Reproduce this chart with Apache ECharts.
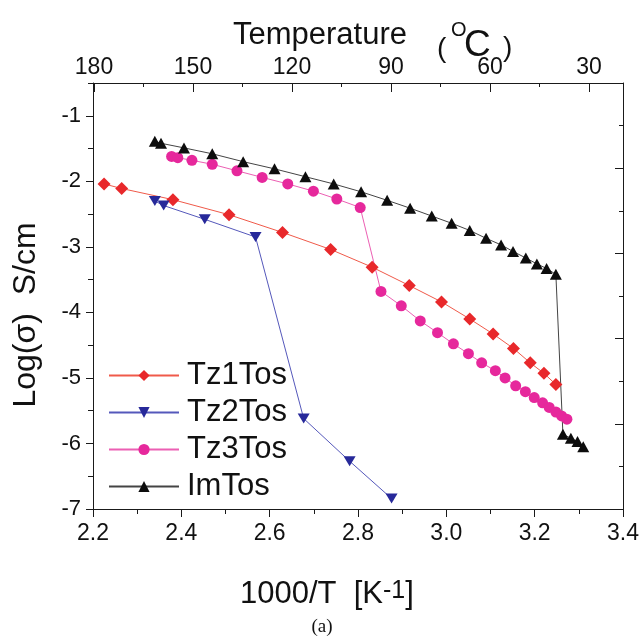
<!DOCTYPE html>
<html>
<head>
<meta charset="utf-8">
<script src="https://cdn.jsdelivr.net/npm/echarts@6/dist/echarts.min.js"></script>
<style>
html, body { margin: 0; padding: 0; background: #fff; }
#main { width: 643px; height: 642px; }
</style>
</head>
<body>
<div id="main"></div>
<script>
// values (1000/T in K^-1, log sigma)
const tz1X = [2.225, 2.265, 2.381, 2.508, 2.629, 2.738, 2.832, 2.916, 2.989, 3.053, 3.106, 3.152, 3.190, 3.221, 3.248]
const tz1Y = [-2.04, -2.11, -2.28, -2.51, -2.78, -3.04, -3.31, -3.59, -3.84, -4.10, -4.33, -4.55, -4.77, -4.93, -5.10]

const tz2X = [2.340, 2.360, 2.453, 2.568, 2.677, 2.781, 2.876]
const tz2Y = [-2.30, -2.37, -2.58, -2.85, -5.62, -6.27, -6.84]

const tz3X = [2.378, 2.392, 2.424, 2.470, 2.526, 2.583, 2.641, 2.699, 2.752, 2.805, 2.852, 2.898, 2.941, 2.980,
    3.016, 3.050, 3.080, 3.111, 3.133, 3.157, 3.179, 3.199, 3.218, 3.233, 3.248, 3.261, 3.273]
const tz3Y = [-1.62, -1.64, -1.68, -1.74, -1.84, -1.94, -2.04, -2.15, -2.27, -2.40, -3.68, -3.90, -4.13, -4.31,
    -4.48, -4.63, -4.77, -4.89, -5.00, -5.12, -5.21, -5.30, -5.38, -5.45, -5.52, -5.58, -5.63]

const imX = [2.340, 2.354, 2.406, 2.470, 2.540, 2.611, 2.681, 2.745, 2.807, 2.866, 2.918, 2.967, 3.012, 3.053,
    3.090, 3.124, 3.151, 3.180, 3.205, 3.227, 3.248, 3.264, 3.282, 3.297, 3.310]
const imY = [-1.39, -1.42, -1.49, -1.58, -1.70, -1.81, -1.93, -2.04, -2.16, -2.29, -2.41, -2.53, -2.64, -2.75,
    -2.87, -2.97, -3.07, -3.17, -3.26, -3.33, -3.42, -5.86, -5.92, -5.97, -6.05]

const seriesNames = ['Tz1Tos', 'Tz2Tos', 'Tz3Tos', 'ImTos']

// tick labels
const logMajor = [-7, -6, -5, -4, -3, -2, -1]
const logMinor = [-6.5, -5.5, -4.5, -3.5, -2.5, -1.5, -0.5]
const tempMajor = [180, 150, 120, 90, 60, 30]
const tempMinor = [165, 135, 105, 75, 45]

const FONT = '"Liberation Sans", Arial, sans-serif'
const AXIS_COLOR = '#1a1a1a'

function pairs (xs, ys) {
    return xs.map(function (x, i) { return [x, ys[i]] })
}

const chart = echarts.init(document.getElementById('main'))

let option = {
    animation: false,
    backgroundColor: '#fff',
    grid: { left: 93, right: 20, top: 83, bottom: 133, containLabel: false },
    legend: {
        orient: 'vertical',
        left: 103,
        top: 355,
        itemWidth: 70,
        itemHeight: 14,
        itemGap: 6,
        data: seriesNames,
        textStyle: { fontFamily: FONT, fontSize: 31, color: '#111', lineHeight: 31, padding: [0, 0, 0, 3] }
    },
    xAxis: [
        {
            // bottom, 1000/T
            type: 'value',
            position: 'bottom',
            min: 2.2,
            max: 3.4,
            interval: 0.2,
            axisLine: { show: true, lineStyle: { color: AXIS_COLOR, width: 1 } },
            axisTick: { show: true, inside: false, length: 8, lineStyle: { color: AXIS_COLOR } },
            minorTick: { show: true, splitNumber: 2, length: 5, lineStyle: { color: AXIS_COLOR } },
            splitLine: { show: false },
            axisLabel: {
                margin: 13,
                fontFamily: FONT,
                fontSize: 23,
                color: '#111',
                formatter: function (v) { return v.toFixed(1) }
            }
        },
        {
            // top, temperature labels
            type: 'value',
            position: 'top',
            inverse: true,
            min: 19.7,
            max: 180.3,
            axisLine: { show: true, lineStyle: { color: AXIS_COLOR, width: 1 } },
            axisTick: { show: true, inside: true, length: 9, customValues: tempMajor, lineStyle: { color: AXIS_COLOR } },
            splitLine: { show: false },
            axisLabel: {
                customValues: tempMajor,
                margin: 4,
                fontFamily: FONT,
                fontSize: 23,
                color: '#111'
            }
        },
        {
            // top, temperature minor ticks
            type: 'value',
            position: 'top',
            inverse: true,
            min: 19.7,
            max: 180.3,
            axisLine: { show: false },
            axisTick: { show: true, inside: true, length: 4, customValues: tempMinor, lineStyle: { color: AXIS_COLOR } },
            splitLine: { show: false },
            axisLabel: { show: false }
        }
    ],
    yAxis: [
        {
            type: 'value',
            position: 'left',
            min: -7,
            max: -0.5,
            axisLine: { show: true, lineStyle: { color: AXIS_COLOR, width: 1 } },
            axisTick: { show: true, inside: false, length: 7, customValues: logMajor, lineStyle: { color: AXIS_COLOR } },
            splitLine: { show: false },
            axisLabel: {
                customValues: logMajor,
                margin: 12,
                fontFamily: FONT,
                fontSize: 22,
                color: '#111',
                formatter: function (v) { return (v < 0 ? '-' : '') + Math.abs(v) }
            }
        },
        {
            type: 'value',
            position: 'left',
            min: -7,
            max: -0.5,
            axisLine: { show: false },
            axisTick: { show: true, inside: false, length: 5, customValues: logMinor, lineStyle: { color: AXIS_COLOR } },
            splitLine: { show: false },
            axisLabel: { show: false }
        },
        {
            // right frame, own ticks, no labels
            type: 'value',
            position: 'right',
            min: 0,
            max: 5,
            interval: 1,
            axisLine: { show: true, lineStyle: { color: AXIS_COLOR, width: 1 } },
            axisTick: { show: true, inside: true, length: 8, lineStyle: { color: AXIS_COLOR } },
            minorTick: { show: true, splitNumber: 2, length: 4, lineStyle: { color: AXIS_COLOR } },
            splitLine: { show: false },
            axisLabel: { show: false }
        }
    ],
    series: [
        {
            name: 'Tz1Tos',
            type: 'line',
            data: pairs(tz1X, tz1Y),
            symbol: 'diamond',
            symbolSize: 13,
            color: '#e8282b',
            itemStyle: { color: '#e8282b' },
            lineStyle: { color: '#f05a4a', width: 1 }
        },
        {
            name: 'Tz2Tos',
            type: 'line',
            data: pairs(tz2X, tz2Y),
            symbol: 'triangle',
            symbolRotate: 180,
            symbolSize: [12, 10],
            color: '#27299a',
            itemStyle: { color: '#27299a' },
            lineStyle: { color: '#5558bb', width: 1 }
        },
        {
            name: 'Tz3Tos',
            type: 'line',
            data: pairs(tz3X, tz3Y),
            symbol: 'circle',
            symbolSize: 11,
            color: '#e6289c',
            itemStyle: { color: '#e6289c' },
            lineStyle: { color: '#ec5fb3', width: 1 }
        },
        {
            name: 'ImTos',
            type: 'line',
            data: pairs(imX, imY),
            symbol: 'triangle',
            symbolSize: [12, 11],
            color: '#0d0d0d',
            itemStyle: { color: '#0d0d0d' },
            lineStyle: { color: '#444', width: 1 }
        }
    ],
    graphic: [
        {
            type: 'text', x: 233, y: 35,
            style: { text: 'Temperature', font: '31px ' + FONT, fill: '#111', verticalAlign: 'middle' }
        },
        {
            type: 'text', x: 437, y: 49,
            style: { text: '(', font: '28px ' + FONT, fill: '#111', verticalAlign: 'middle' }
        },
        {
            type: 'text', x: 451, y: 30,
            style: { text: 'O', font: '20px ' + FONT, fill: '#111', verticalAlign: 'middle' }
        },
        {
            type: 'text', x: 464, y: 46,
            style: { text: 'C', font: '37px ' + FONT, fill: '#111', verticalAlign: 'middle' }
        },
        {
            type: 'text', x: 503, y: 48,
            style: { text: ')', font: '28px ' + FONT, fill: '#111', verticalAlign: 'middle' }
        },
        {
            type: 'text', x: 240, y: 594,
            style: {
                text: '1000/T  [K{s|-1}]',
                font: '31px ' + FONT,
                fill: '#111',
                verticalAlign: 'middle',
                rich: { s: { fontSize: 25, fontFamily: FONT, verticalAlign: 'top', fill: '#111' } }
            }
        },
        {
            type: 'text', x: 26, y: 315, rotation: Math.PI / 2,
            style: { text: 'Log(\u03c3)  S/cm', font: '32px ' + FONT, fill: '#111', align: 'center', verticalAlign: 'middle' }
        },
        {
            type: 'text', x: 322, y: 627,
            style: { text: '(a)', font: '19px "Liberation Serif", serif', fill: '#111', align: 'center', verticalAlign: 'middle' }
        }
    ]
}

option && chart.setOption(option)
</script>
</body>
</html>
